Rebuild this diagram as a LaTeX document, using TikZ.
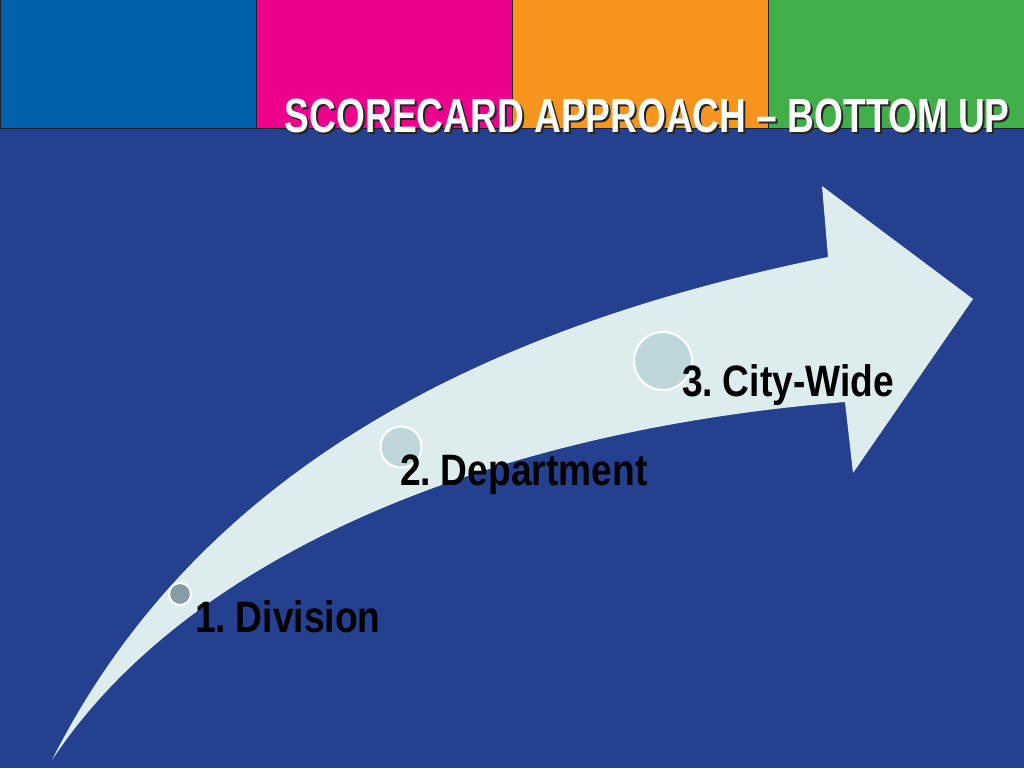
\documentclass[tikz,border=0pt]{standalone}
\usepackage{fontspec}
\newfontfamily\labelfont[FakeStretch=0.845,WordSpace=0.6]{Liberation Sans}
\newfontfamily\titlefont[FakeStretch=0.773]{Liberation Sans}
\definecolor{bgnavy}{RGB}{37,64,143}
\definecolor{boxblue}{RGB}{0,98,172}
\definecolor{boxmag}{RGB}{236,0,140}
\definecolor{boxorange}{RGB}{247,148,29}
\definecolor{boxgreen}{RGB}{64,174,73}
\definecolor{boxline}{RGB}{30,30,40}
\definecolor{arrowfill}{RGB}{221,237,238}
\definecolor{dotfill}{RGB}{189,215,219}
\definecolor{dotdark}{RGB}{136,156,163}
\tikzset{
  topbox/.style={draw=boxline, line width=1pt},
  dot/.style={circle, draw=white, line width=2pt, inner sep=0pt},
  steplabel/.style={anchor=base west, inner sep=0pt, text=black,
    font=\labelfont\bfseries\fontsize{44}{44}\selectfont},
  titletext/.style={anchor=base east, inner sep=0pt,
    font=\titlefont\bfseries\fontsize{48}{48}\selectfont}
}
\begin{document}
\begin{tikzpicture}[x=1pt,y=-1pt]
\useasboundingbox (0,0) rectangle (1024,768);
\fill[bgnavy] (0,0) rectangle (1024,768);
% top colour boxes
\draw[topbox, fill=boxblue] (0,0) rectangle (256,128);
\draw[topbox, fill=boxmag] (256,0) rectangle (512,128);
\draw[topbox, fill=boxorange] (512,0) rectangle (768,128);
\draw[topbox, fill=boxgreen] (768,0) rectangle (1024,128);
% title
\node[titletext, text=black!85] (titleshadow) at (1012,134) {SCORECARD APPROACH – BOTTOM UP};
\node[titletext, text=white] (title) at (1010,132) {SCORECARD APPROACH – BOTTOM UP};
% curved arrow
\fill[arrowfill] (52,760) .. controls (205,457) and (505,323) .. (828,257)
  -- (822,186) -- (973,299) -- (853,473) -- (845,402)
  .. controls (496,430) and (189.5,552.5) .. (52,760) -- cycle;
% milestone dots
\node[dot, fill=dotdark, minimum size=22pt] (d1) at (180,594) {};
\node[dot, fill=dotfill, minimum size=41pt] (d2) at (401,447) {};
\node[dot, fill=dotfill, minimum size=58pt] (d3) at (663,361) {};
% labels
\node[steplabel] (l1) at (195,632) {1. Division};
\node[steplabel] (l2) at (400,485) {2. Department};
\node[steplabel] (l3) at (682,396) {3. City-Wide};
\end{tikzpicture}
\end{document}
